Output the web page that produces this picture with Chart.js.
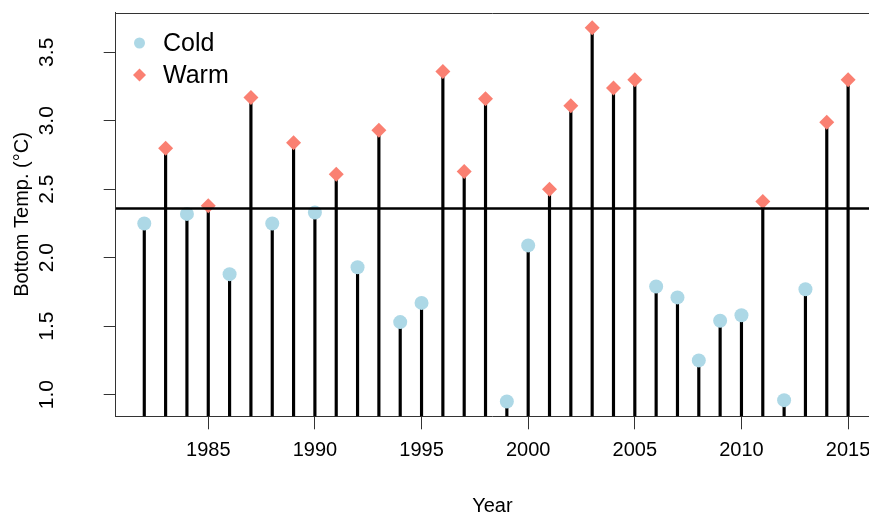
<!DOCTYPE html>
<html>
<head>
<meta charset="utf-8">
<script src="https://cdn.jsdelivr.net/npm/chart.js@4.4.1/dist/chart.umd.min.js"></script>
<style>
  html, body { margin: 0; padding: 0; background: #ffffff; }
  #wrap { width: 869px; height: 517px; }
</style>
</head>
<body>
<div id="wrap"><canvas id="c" width="869" height="517"></canvas></div>
<script>
// ---- data ----
const years = [1982,1983,1984,1985,1986,1987,1988,1989,1990,1991,1992,1993,1994,1995,1996,1997,1998,1999,2000,2001,2002,2003,2004,2005,2006,2007,2008,2009,2010,2011,2012,2013,2014,2015];
const temps = [2.25,2.80,2.32,2.38,1.88,3.17,2.25,2.84,2.33,2.61,1.93,2.93,1.53,1.67,3.36,2.63,3.16,0.95,2.09,2.50,3.11,3.68,3.24,3.30,1.79,1.71,1.25,1.54,1.58,2.41,0.96,1.77,2.99,3.30];
const classes = ['Cold','Warm','Cold','Warm','Cold','Warm','Cold','Warm','Cold','Warm','Cold','Warm','Cold','Cold','Warm','Warm','Warm','Cold','Cold','Warm','Warm','Warm','Warm','Warm','Cold','Cold','Cold','Cold','Cold','Warm','Cold','Cold','Warm','Warm'];
const meanTemp = 2.36;
const xTickValues = [1985,1990,1995,2000,2005,2010,2015];
const yTickValues = [1.0,1.5,2.0,2.5,3.0,3.5];

// ---- axis limits / styling ----
const X_MIN = 1980.66, X_MAX = 2015.98;
const Y_MIN = 0.842, Y_MAX = 3.789;
const COLD = '#ADD8E6', WARM = '#FA8072';
const FONT = "'Liberation Sans', Arial, Helvetica, sans-serif";

const stems = years.map((y, i) => ({ x: y, y: [Y_MIN, temps[i]] }));
const coldPts = years.map((y, i) => ({ x: y, y: temps[i], c: classes[i] })).filter(p => p.c === 'Cold');
const warmPts = years.map((y, i) => ({ x: y, y: temps[i], c: classes[i] })).filter(p => p.c === 'Warm');

const zeroPad = s => { s.paddingTop = 0; s.paddingBottom = 0; s.paddingLeft = 0; s.paddingRight = 0; };

const frame = {
  id: 'frame',
  afterDraw(chart) {
    const { ctx, chartArea: a } = chart;
    ctx.save();
    ctx.strokeStyle = '#333';
    ctx.lineWidth = 1;
    ctx.beginPath();
    ctx.moveTo(a.left, Math.round(a.top) + 0.5);
    ctx.lineTo(a.right, Math.round(a.top) + 0.5);
    ctx.stroke();
    // legend
    const items = [
      { label: 'Cold', style: 'circle', color: COLD, r: 5.5, y: 43 },
      { label: 'Warm', style: 'rectRot', color: WARM, r: 6.5, y: 75 }
    ];
    ctx.font = "25px " + FONT;
    ctx.textBaseline = 'middle';
    ctx.textAlign = 'left';
    items.forEach(it => {
      ctx.fillStyle = it.color;
      ctx.beginPath();
      if (it.style === 'circle') { ctx.arc(139.5, it.y, it.r, 0, Math.PI * 2); }
      else { ctx.moveTo(139.5 - it.r, it.y); ctx.lineTo(139.5, it.y - it.r); ctx.lineTo(139.5 + it.r, it.y); ctx.lineTo(139.5, it.y + it.r); ctx.closePath(); }
      ctx.fill();
      ctx.fillStyle = '#000';
      ctx.fillText(it.label, 163, it.y + 1);
    });
    ctx.restore();
  }
};

new Chart(document.getElementById('c'), {
  data: {
    datasets: [
      { type: 'bar', label: 'stem', data: stems, backgroundColor: '#000', borderWidth: 0, barThickness: 2.5, order: 3 },
      { type: 'scatter', label: 'Cold', data: coldPts, pointStyle: 'circle', pointRadius: 7, pointBackgroundColor: COLD, pointBorderWidth: 0, order: 2 },
      { type: 'scatter', label: 'Warm', data: warmPts, pointStyle: 'rectRot', pointRadius: 7.5, pointBackgroundColor: WARM, pointBorderWidth: 0, order: 2 },
      { type: 'line', label: 'mean', data: [{ x: X_MIN, y: meanTemp }, { x: X_MAX, y: meanTemp }], borderColor: '#000', borderWidth: 2.5, pointRadius: 0, order: 1 }
    ]
  },
  plugins: [frame],
  options: {
    responsive: false,
    animation: false,
    devicePixelRatio: 1,
    layout: { autoPadding: false, padding: { top: 12.7, right: 0, left: 0, bottom: 0 } },
    plugins: { legend: { display: false }, tooltip: { enabled: false } },
    scales: {
      x: {
        type: 'linear', min: X_MIN, max: X_MAX, position: 'bottom', offset: false,
        afterFit: s => { s.height = 100.7; zeroPad(s); },
        afterBuildTicks: s => { s.ticks = xTickValues.map(v => ({ value: v })); },
        grid: { offset: false, drawOnChartArea: false, drawTicks: true, tickLength: 13, tickColor: '#333', tickWidth: 1 },
        border: { display: true, color: '#333', width: 1 },
        ticks: { color: '#000', font: { family: FONT, size: 20 }, padding: 9, maxRotation: 0, minRotation: 0, callback: v => String(v) },
        title: { display: true, text: 'Year', color: '#000', font: { family: FONT, size: 20, lineHeight: 1.0 }, padding: { top: 0, bottom: 1 } }
      },
      y: {
        type: 'linear', min: Y_MIN, max: Y_MAX, position: 'left', offset: false,
        afterFit: s => { s.width = 115.7; zeroPad(s); },
        afterBuildTicks: s => { s.ticks = yTickValues.map(v => ({ value: v })); },
        grid: { drawOnChartArea: false, drawTicks: true, tickLength: 12, tickColor: '#333', tickWidth: 1 },
        border: { display: true, color: '#333', width: 1 },
        ticks: { color: '#000', font: { family: FONT, size: 21 }, padding: 42, minRotation: 90, maxRotation: 90, crossAlign: 'center', callback: v => Number(v).toFixed(1) },
        title: { display: true, text: 'Bottom Temp. (°C)', color: '#000', font: { family: FONT, size: 20, lineHeight: 1.2 }, padding: { top: 10, bottom: 0 } }
      }
    }
  }
});
</script>
</body>
</html>
